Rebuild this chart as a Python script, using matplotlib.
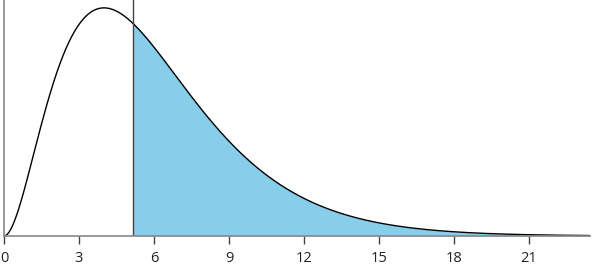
import numpy as np
import matplotlib.pyplot as plt
from math import gamma

plt.rcParams["font.family"] = ['Open Sans', 'DejaVu Sans']

# chi-square density, df read from the mode at x = 4
df = 6
cutoff = 5.15
x_max = 23.44
ticks = [0, 3, 6, 9, 12, 15, 18, 21]

x = np.linspace(0, x_max, 600)
k = df / 2.0
pdf = x ** (k - 1) * np.exp(-x / 2) / (2 ** k * gamma(k))

fig = plt.figure(figsize=(5.92, 2.67), dpi=100)
ax = fig.add_axes([4 / 592, 31 / 267, 586 / 592, 236 / 267])

mask = x >= cutoff
ax.fill_between(x[mask], 0, pdf[mask], color='#87ceeb', linewidth=0)
ax.plot(x, pdf, color='black', lw=1.0)
ax.axvline(cutoff, color='#444444', lw=1.0)

ax.set_xlim(0, x_max)
ax.set_ylim(0, 0.140)

for s in ['top', 'right']:
    ax.spines[s].set_visible(False)
ax.spines['left'].set_color('#888888')
ax.spines['bottom'].set_color('#888888')
ax.spines['left'].set_linewidth(1.2)
ax.spines['bottom'].set_linewidth(1.2)

ax.set_yticks([])
ax.set_xticks(ticks)
ax.tick_params(axis='x', length=6, width=1, color='#444444', labelsize=10.5, pad=5, labelcolor='#222222')

plt.savefig("out.png", dpi=100)
plt.close()
